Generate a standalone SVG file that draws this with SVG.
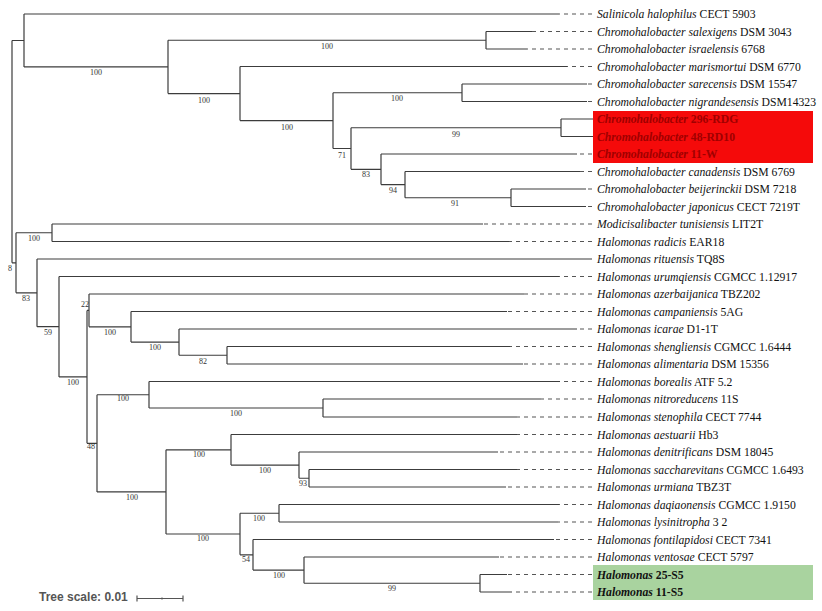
<svg xmlns="http://www.w3.org/2000/svg" width="822" height="611" viewBox="0 0 822 611">
<style>
.br{fill:none;stroke:#3c3c3c;stroke-width:1.2}
.ld{fill:none;stroke:#555;stroke-width:1.1;stroke-dasharray:4 4}
.lb{font-family:"Liberation Serif","Times New Roman",serif;font-size:11.7px;fill:#111}
.it{font-style:italic}
.bs{font-family:"Liberation Serif","Times New Roman",serif;font-size:8px;fill:#333;text-anchor:middle}
.red{fill:#a00000;font-weight:bold}
.grn{font-weight:bold;fill:#111}
</style>
<rect width="822" height="611" fill="#fff"/>
<rect x="593" y="111" width="220" height="52" fill="#f50a0a"/>
<rect x="593" y="565" width="220" height="35" fill="#a9d39f"/>
<g id="connectors">
<path class="br" d="M12 40.5V262.8
M12 40.5H24M24 14V66.9M24 14H559
M24 66.9H168M168 40.25V93.6
M168 40.25H486M486 31.5V49M486 31.5H532M486 49H527
M168 93.6H240M240 66.5V120.6M240 66.5H567
M240 120.6H333M333 92.75V148.5
M333 92.75H462M462 84V101.5M462 84H587M462 101.5H587
M333 148.5H351M351 127.75V169.3
M351 127.75H561M561 119V136.5M561 119H593M561 136.5H593
M351 169.3H381M381 154V184.6M381 154H577
M381 184.6H405M405 171.5V197.75M405 171.5H580
M405 197.75H511M511 189V206.5M511 189H586M511 206.5H586
M12 262.8H16M16 232.75V292.8
M16 232.75H52M52 224V241.5M52 224H483M52 241.5H509
M16 292.8H37M37 259V326.7M37 259H592
M37 326.7H59M59 276.5V376.9M59 276.5H559
M59 376.9H87M87 310.4V443.3
M87 310.4H89M89 294V326.8M89 294H524
M89 326.8H131M131 311.5V342.1M131 311.5H507
M131 342.1H179M179 329V355.25M179 329H577
M179 355.25H227M227 346.5V364M227 346.5H510M227 364H523
M87 443.3H97M97 394.75V491.9
M97 394.75H149M149 381.5V408M149 381.5H560
M149 408H323M323 399V417M323 399H541M323 417H517
M97 491.9H166M166 449.8V534
M166 449.8H231M231 434.5V465.1M231 434.5H517
M231 465.1H299M299 452V478.25M299 452H498
M299 478.25H309M309 469.5V487M309 469.5H517M309 487H506
M166 534H240M240 513.25V554.8
M240 513.25H279M279 504.5V522M279 504.5H559M279 522H558
M240 554.8H253M253 539.5V570.1M253 539.5H554
M253 570.1H304M304 557V583.25M304 557H499
M304 583.25H480M480 574.5V592M480 574.5H507M480 592H512"/>
<path class="ld" d="M592 14H559M592 31.5H532M592 49H527M592 66.5H567M592 84H587M592 101.5H587
M592 154H577M592 171.5H580M592 189H586M592 206.5H586
M592 224H483M592 241.5H509M592 276.5H559M592 294H524M592 311.5H507M592 329H577
M592 346.5H510M592 364H523M592 381.5H560M592 399H541M592 417H517M592 434.5H517
M592 452H498M592 469.5H517M592 487H506M592 504.5H559M592 522H558M592 539.5H554
M592 557H499M592 574.5H507M592 592H512"/>
</g>
<g id="support">
<text class="bs" x="96" y="75">100</text>
<text class="bs" x="327" y="49">100</text>
<text class="bs" x="204" y="103">100</text>
<text class="bs" x="287" y="130">100</text>
<text class="bs" x="397" y="101">100</text>
<text class="bs" x="456" y="137">99</text>
<text class="bs" x="342" y="158">71</text>
<text class="bs" x="366" y="177">83</text>
<text class="bs" x="393" y="193">94</text>
<text class="bs" x="455" y="206">91</text>
<text class="bs" x="34" y="241">100</text>
<text class="bs" x="10" y="271">8</text>
<text class="bs" x="26" y="301">83</text>
<text class="bs" x="48" y="335">59</text>
<text class="bs" x="85" y="307">22</text>
<text class="bs" x="110" y="335">100</text>
<text class="bs" x="73" y="385">100</text>
<text class="bs" x="155" y="350">100</text>
<text class="bs" x="203" y="364">82</text>
<text class="bs" x="123" y="401">100</text>
<text class="bs" x="236" y="416">100</text>
<text class="bs" x="91" y="449">48</text>
<text class="bs" x="199" y="457">100</text>
<text class="bs" x="265" y="473">100</text>
<text class="bs" x="303" y="486">93</text>
<text class="bs" x="132" y="500">100</text>
<text class="bs" x="259" y="521">100</text>
<text class="bs" x="203" y="541">100</text>
<text class="bs" x="246" y="562">54</text>
<text class="bs" x="279" y="578">100</text>
<text class="bs" x="392" y="591">99</text>
</g>
<g id="leaf-1"><text class="lb" x="597" y="18"><tspan class="it">Salinicola halophilus</tspan> CECT 5903</text></g>
<g id="leaf-2"><text class="lb" x="597" y="35.5"><tspan class="it">Chromohalobacter salexigens</tspan> DSM 3043</text></g>
<g id="leaf-3"><text class="lb" x="597" y="53"><tspan class="it">Chromohalobacter israelensis</tspan> 6768</text></g>
<g id="leaf-4"><text class="lb" x="597" y="70.5"><tspan class="it">Chromohalobacter marismortui</tspan> DSM 6770</text></g>
<g id="leaf-5"><text class="lb" x="597" y="88"><tspan class="it">Chromohalobacter sarecensis</tspan> DSM 15547</text></g>
<g id="leaf-6"><text class="lb" x="597" y="105.5"><tspan class="it">Chromohalobacter nigrandesensis</tspan> DSM14323</text></g>
<g id="leaf-7"><text class="lb red" x="597" y="123"><tspan class="it">Chromohalobacter</tspan> 296-RDG</text></g>
<g id="leaf-8"><text class="lb red" x="597" y="140.5"><tspan class="it">Chromohalobacter</tspan> 48-RD10</text></g>
<g id="leaf-9"><text class="lb red" x="597" y="158"><tspan class="it">Chromohalobacter</tspan> 11-W</text></g>
<g id="leaf-10"><text class="lb" x="597" y="175.5"><tspan class="it">Chromohalobacter canadensis</tspan> DSM 6769</text></g>
<g id="leaf-11"><text class="lb" x="597" y="193"><tspan class="it">Chromohalobacter beijerinckii</tspan> DSM 7218</text></g>
<g id="leaf-12"><text class="lb" x="597" y="210.5"><tspan class="it">Chromohalobacter japonicus</tspan> CECT 7219T</text></g>
<g id="leaf-13"><text class="lb" x="597" y="228"><tspan class="it">Modicisalibacter tunisiensis</tspan> LIT2T</text></g>
<g id="leaf-14"><text class="lb" x="597" y="245.5"><tspan class="it">Halomonas radicis</tspan> EAR18</text></g>
<g id="leaf-15"><text class="lb" x="597" y="263"><tspan class="it">Halomonas rituensis</tspan> TQ8S</text></g>
<g id="leaf-16"><text class="lb" x="597" y="280.5"><tspan class="it">Halomonas urumqiensis</tspan> CGMCC 1.12917</text></g>
<g id="leaf-17"><text class="lb" x="597" y="298"><tspan class="it">Halomonas azerbaijanica</tspan> TBZ202</text></g>
<g id="leaf-18"><text class="lb" x="597" y="315.5"><tspan class="it">Halomonas campaniensis</tspan> 5AG</text></g>
<g id="leaf-19"><text class="lb" x="597" y="333"><tspan class="it">Halomonas icarae</tspan> D1-1T</text></g>
<g id="leaf-20"><text class="lb" x="597" y="350.5"><tspan class="it">Halomonas shengliensis</tspan> CGMCC 1.6444</text></g>
<g id="leaf-21"><text class="lb" x="597" y="368"><tspan class="it">Halomonas alimentaria</tspan> DSM 15356</text></g>
<g id="leaf-22"><text class="lb" x="597" y="385.5"><tspan class="it">Halomonas borealis</tspan> ATF 5.2</text></g>
<g id="leaf-23"><text class="lb" x="597" y="403"><tspan class="it">Halomonas nitroreducens</tspan> 11S</text></g>
<g id="leaf-24"><text class="lb" x="597" y="421"><tspan class="it">Halomonas stenophila</tspan> CECT 7744</text></g>
<g id="leaf-25"><text class="lb" x="597" y="438.5"><tspan class="it">Halomonas aestuarii</tspan> Hb3</text></g>
<g id="leaf-26"><text class="lb" x="597" y="456"><tspan class="it">Halomonas denitrificans</tspan> DSM 18045</text></g>
<g id="leaf-27"><text class="lb" x="597" y="473.5"><tspan class="it">Halomonas saccharevitans</tspan> CGMCC 1.6493</text></g>
<g id="leaf-28"><text class="lb" x="597" y="491"><tspan class="it">Halomonas urmiana</tspan> TBZ3T</text></g>
<g id="leaf-29"><text class="lb" x="597" y="508.5"><tspan class="it">Halomonas daqiaonensis</tspan> CGMCC 1.9150</text></g>
<g id="leaf-30"><text class="lb" x="597" y="526"><tspan class="it">Halomonas lysinitropha</tspan> 3 2</text></g>
<g id="leaf-31"><text class="lb" x="597" y="543.5"><tspan class="it">Halomonas fontilapidosi</tspan> CECT 7341</text></g>
<g id="leaf-32"><text class="lb" x="597" y="561"><tspan class="it">Halomonas ventosae</tspan> CECT 5797</text></g>
<g id="leaf-33"><text class="lb grn" x="597" y="578.5"><tspan class="it">Halomonas</tspan> 25-S5</text></g>
<g id="leaf-34"><text class="lb grn" x="597" y="596"><tspan class="it">Halomonas</tspan> 11-S5</text></g>
<g id="scale">
<text x="39" y="601" font-family="'Liberation Sans',Arial,sans-serif" font-size="12" font-weight="bold" fill="#555">Tree scale: 0.01</text>
<path d="M137 598.5H183M137 595.5V601.5M183 595.5V601.5M162 597.5V599.5" fill="none" stroke="#555" stroke-width="1.2"/>
</g>
</svg>
